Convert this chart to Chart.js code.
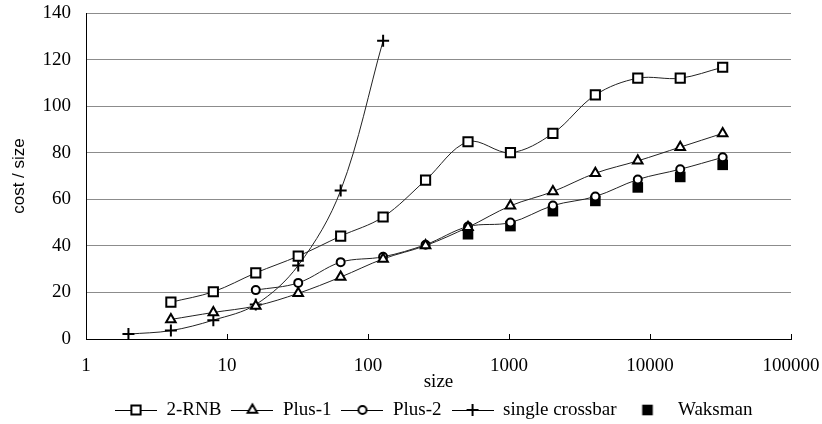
<!DOCTYPE html>
<html>
<head>
<meta charset="utf-8">
<script src="https://cdn.jsdelivr.net/npm/chart.js@4.4.1/dist/chart.umd.min.js"></script>
<style>
html, body { margin: 0; padding: 0; background: #fff; }
#wrap { width: 822px; height: 424px; }
</style>
</head>
<body>
<div id="wrap"><canvas id="grafica" width="822" height="424"></canvas></div>
<script>
//DATOS
const xTicks = [1, 10, 100, 1000, 10000, 100000];
const yTicks = [0, 20, 40, 60, 80, 100, 120, 140];

const rnbSizes = [4, 8, 16, 32, 64, 128, 256, 512, 1024, 2048, 4096, 8192, 16384, 32768];
const rnbValues = [15.8, 20.3, 28.4, 35.6, 44.2, 52.4, 68.2, 84.7, 80, 88.3, 104.8, 112, 112, 116.7];

const plus1Sizes = [4, 8, 16, 32, 64, 128, 256, 512, 1024, 2048, 4096, 8192, 16384, 32768];
const plus1Values = [8.4, 11.4, 14.2, 19.6, 26.6, 34.4, 40.1, 48, 57.2, 63.3, 71.2, 76.5, 82.4, 88.3];

const plus2Sizes = [16, 32, 64, 128, 256, 512, 1024, 2048, 4096, 8192, 16384, 32768];
const plus2Values = [21, 24.1, 33, 35.3, 40.5, 48.3, 50, 57.3, 61.2, 68.5, 72.9, 78];

const crossSizes = [2, 4, 8, 16, 32, 64, 128];
const crossValues = [2.1, 3.6, 8.1, 14.8, 31.6, 63.8, 128.1];

const waksmanSizes = [512, 1024, 2048, 4096, 8192, 16384, 32768];
const waksmanValues = [45, 48.5, 54.9, 59.3, 65.1, 69.6, 74.8];
//DATOS

const serif = '"Liberation Serif", "Times New Roman", serif';
const sans = '"Liberation Sans", Arial, sans-serif';
const gridGray = '#8c8c8c';

function puntos(xs, ys) {
    return xs.map((x, i) => ({ x: x, y: ys[i] }));
}

//ICONOS LEYENDA
function icono(style, conLinea) {
    const c = document.createElement('canvas');
    c.width = 42;
    c.height = 20;
    const g = c.getContext('2d');
    const cx = 21, cy = 10;
    if (conLinea) {
        g.strokeStyle = '#000';
        g.lineWidth = 1;
        g.beginPath();
        g.moveTo(0, cy + 0.5);
        g.lineTo(42, cy + 0.5);
        g.stroke();
    }
    g.strokeStyle = '#000';
    g.fillStyle = '#fff';
    g.lineWidth = 2;
    g.beginPath();
    if (style === 'rect') {
        g.rect(cx - 4.6, cy - 4.6, 9.2, 9.2);
        g.fill(); g.stroke();
    } else if (style === 'triangle') {
        const r = 5.5;
        g.moveTo(cx, cy - r);
        g.lineTo(cx + r * 0.866, cy + r / 2);
        g.lineTo(cx - r * 0.866, cy + r / 2);
        g.closePath();
        g.fill(); g.stroke();
    } else if (style === 'circle') {
        g.arc(cx, cy, 4, 0, Math.PI * 2);
        g.fill(); g.stroke();
    } else if (style === 'cross') {
        g.moveTo(cx - 6, cy); g.lineTo(cx + 6, cy);
        g.moveTo(cx, cy - 6); g.lineTo(cx, cy + 6);
        g.stroke();
    } else {
        g.fillStyle = '#000';
        g.fillRect(cx - 5.3, cy - 5.3, 10.6, 10.6);
    }
    return c;
}

const iconos = [
    icono('rect', true),
    icono('triangle', true),
    icono('circle', true),
    icono('cross', true),
    icono('filled', false)
];

//MOVER LEYENDA (el grafico original la tiene centrada bajo el area de trazado)
const moverLeyenda = {
    id: 'moverLeyenda',
    afterLayout(chart) {
        const lg = chart.legend;
        if (!lg || !lg.lineWidths) return;
        const inicio = (lg.left + 10 + lg.right - lg.lineWidths[0]) / 2;
        const dx = 115 - inicio;
        const dy = 410 - (lg.top + 10 + 9.5);
        lg.left += dx; lg.right += dx;
        lg.top += dy; lg.bottom += dy;
    }
};

const comun = {
    borderColor: '#222',
    borderWidth: 1,
    pointBorderColor: '#000',
    pointBackgroundColor: '#fff',
    pointBorderWidth: 2,
    tension: 0.35,
    fill: false
};

const data = {
    datasets: [
        Object.assign({}, comun, { label: '2-RNB', data: puntos(rnbSizes, rnbValues), pointStyle: 'rect', pointRadius: 6.5 }),
        Object.assign({}, comun, { label: 'Plus-1', data: puntos(plus1Sizes, plus1Values), pointStyle: 'triangle', pointRadius: 5.5 }),
        Object.assign({}, comun, { label: 'Plus-2', data: puntos(plus2Sizes, plus2Values), pointStyle: 'circle', pointRadius: 4 }),
        Object.assign({}, comun, { label: 'single crossbar', data: puntos(crossSizes, crossValues), pointStyle: 'cross', pointRadius: 6 }),
        { label: 'Waksman', data: puntos(waksmanSizes, waksmanValues), showLine: false, pointStyle: 'rect',
          pointRadius: 7.5, pointBorderWidth: 0, pointBackgroundColor: '#000', pointBorderColor: '#000' }
    ]
};

const config = {
    type: 'line',
    data: data,
    plugins: [moverLeyenda],
    options: {
        responsive: false,
        devicePixelRatio: 1,
        animation: false,
        layout: { padding: { left: 5, right: 31, top: 13, bottom: 0 } },
        plugins: {
            tooltip: { enabled: false },
            legend: {
                position: 'bottom',
                labels: {
                    usePointStyle: true,
                    pointStyleWidth: 42,
                    boxHeight: 19,
                    padding: 10,
                    color: '#000',
                    font: { family: serif, size: 19 },
                    generateLabels: (chart) => chart.data.datasets.map((ds, i) => ({
                        text: ds.label,
                        pointStyle: iconos[i],
                        datasetIndex: i,
                        fillStyle: '#fff',
                        strokeStyle: '#000',
                        lineWidth: 0,
                        hidden: false
                    }))
                }
            }
        },
        scales: {
            x: {
                type: 'logarithmic',
                min: 1,
                max: 100000,
                afterBuildTicks: (s) => { s.ticks = xTicks.map(v => ({ value: v })); },
                afterFit: (s) => { s.height = 46; s.paddingLeft = 0; s.paddingRight = 0; },
                grid: { drawOnChartArea: false, drawTicks: true, tickLength: -5, tickColor: '#000' },
                border: { color: '#000', width: 1 },
                ticks: {
                    color: '#000',
                    padding: 21,
                    maxRotation: 0,
                    autoSkip: false,
                    font: { family: serif, size: 19 },
                    callback: (v) => String(v)
                },
                title: {
                    display: true,
                    text: 'size',
                    color: '#000',
                    padding: { top: 0, bottom: -8.6 },
                    font: { family: serif, size: 19 }
                }
            },
            y: {
                min: 0,
                max: 140,
                afterBuildTicks: (s) => { s.ticks = yTicks.map(v => ({ value: v })); },
                afterFit: (s) => { s.width = 81; s.paddingTop = 0; s.paddingBottom = 0; },
                grid: {
                    drawTicks: false,
                    color: (ctx) => (ctx.tick && ctx.tick.value === 0 ? '#000' : gridGray)
                },
                border: { color: '#000', width: 1 },
                ticks: {
                    color: '#000',
                    padding: 15,
                    font: { family: serif, size: 19 }
                },
                title: {
                    display: true,
                    text: 'cost / size',
                    color: '#000',
                    padding: { top: 4, bottom: 4 },
                    font: { family: sans, size: 17 }
                }
            }
        }
    }
};

const chart = new Chart(document.getElementById('grafica'), config);
</script>
</body>
</html>
